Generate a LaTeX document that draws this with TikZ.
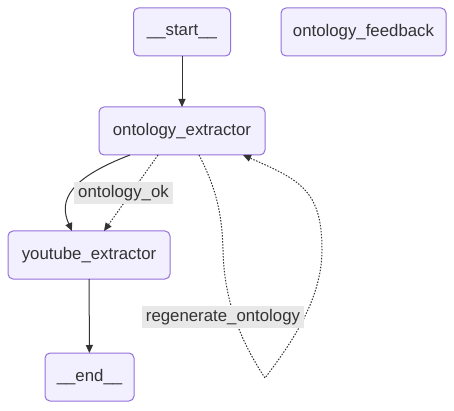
\documentclass[tikz,border=0pt]{standalone}
\usepackage{fontspec}
\setmainfont{Liberation Sans}
\usetikzlibrary{arrows.meta,positioning,shapes}
\definecolor{nodefill}{HTML}{F2F0FF}
\definecolor{nodeline}{HTML}{9370DB}
\definecolor{edgecol}{HTML}{333333}
\definecolor{lblfill}{HTML}{E8E8E8}

\begin{document}
\begin{tikzpicture}[x=1pt,y=-1pt,font=\fontsize{16.8}{20}\selectfont,
    box/.style={draw=nodeline,fill=nodefill,rounded corners=5pt,line width=1pt,
      minimum height=48pt,inner sep=0pt,outer sep=0pt,text=edgecol},
    lbl/.style={fill=lblfill,inner xsep=4pt,inner ysep=0pt,minimum height=22pt,text=edgecol},
    edge/.style={draw=edgecol,line width=1pt,-{Triangle[length=8pt,width=7pt]}},
    dots/.style={edge,dash pattern=on 1.5pt off 1.5pt}]
      \useasboundingbox (0,0) rectangle (454,411);
      \node[box,minimum width=97pt] (start) at (182,32) {\_\_start\_\_};
      \node[box,minimum width=165pt] (feedback) at (363.5,32) {ontology\_feedback};
      \node[box,minimum width=166pt] (ext) at (182,131) {ontology\_extractor};
      \node[box,minimum width=162pt] (yt) at (89,255) {youtube\_extractor};
      \node[box,minimum width=89pt] (end) at (89.5,377) {\_\_end\_\_};
      \draw[edge] (start)--(ext);
      \draw[edge] ([xshift=-52pt]ext.south) .. controls (70,178) and (58,200) .. ([xshift=-17pt]yt.north);
      \draw[dots] ([xshift=-24pt]ext.south)--([xshift=15pt]yt.north);
      \draw[dots] ([xshift=17pt]ext.south) .. controls (217,190) and (222,215) .. (223,250)
        .. controls (224,300) and (240,340) .. (265,378)
        .. controls (290,345) and (322,300) .. (322,250)
        .. controls (322,190) and (300,180) .. ([xshift=61pt]ext.south);
      \draw[edge] (yt)--(end);
      \node[lbl] (okl) at (123.5,193) {ontology\_ok};
      \node[lbl] (regl) at (223,317) {regenerate\_ontology};
    \end{tikzpicture}
\end{document}
